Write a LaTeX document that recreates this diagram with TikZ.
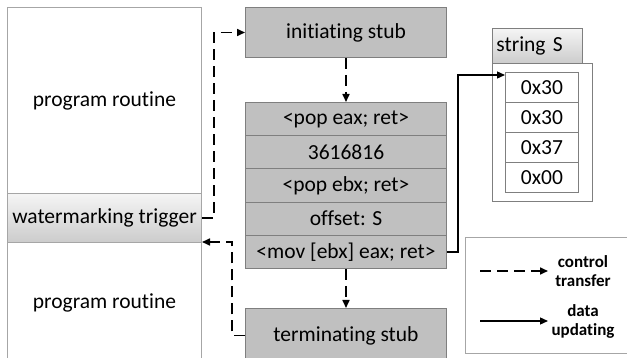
\documentclass[tikz,border=0pt]{standalone}
\usepackage{fontspec}
\setmainfont{Carlito}[Ligatures=NoCommon]
\usetikzlibrary{arrows.meta,calc}
\definecolor{stubgray}{HTML}{C0C0C0}
\definecolor{linegray}{HTML}{7F7F7F}
\definecolor{boxgray}{HTML}{A6A6A6}

\begin{document}
\begin{tikzpicture}[x=1pt,y=-1pt]
	\tikzset{>={Triangle[length=8pt,width=7pt]},
		txt/.style={font=\fontsize{21.5}{25}\selectfont},
		routine/.style={txt,draw=boxgray,line width=1pt,fill=white,anchor=north west,inner sep=0pt,minimum width=194pt},
		stub/.style={txt,draw=linegray,line width=1pt,fill=stubgray,anchor=north west,inner sep=0pt,minimum width=201pt},
		cell/.style={txt,draw=linegray,line width=0.8pt,fill=white,anchor=north west,inner sep=0pt,minimum width=73pt,minimum height=30pt},
		shade/.style={top color=gray!8,bottom color=gray!40},
		ctrl/.style={->,line width=1.6pt,dash pattern=on 11pt off 6pt},
		data/.style={->,line width=1.3pt},
		legtext/.style={font=\fontsize{17}{19}\selectfont\bfseries,align=center,inner sep=0pt}}
	\useasboundingbox (0,0) rectangle (627,358);
	\clip (0,0) rectangle (627,358);

	% program with its trigger
	\node[routine,minimum height=186pt] (prog1) at (7,7) {program routine};
	\node[routine,shade,minimum height=49pt] (trigger) at (7,193) {watermarking trigger};
	\node[routine,minimum height=120pt] (prog2) at (7,242) {program routine};

	% the stubs and the gadget chain
	\node[stub,minimum height=50pt] (init) at (245,7) {initiating stub};
	\node[stub,minimum height=33.2pt] (pop1) at (245,102) {<pop eax; ret>};
	\node[stub,minimum height=33.2pt] (val) at (245,135.2) {3616816};
	\node[stub,minimum height=33.2pt] (pop2) at (245,168.4) {<pop ebx; ret>};
	\node[stub,minimum height=33.2pt] (offs) at (245,201.6) {offset: S};
	\node[stub,minimum height=33.2pt] (mov) at (245,234.8) {<mov [ebx] eax; ret>};
	\node[stub,minimum height=54pt] (term) at (245,308) {terminating stub};

	% the string S
	\node[cell,shade,minimum width=90pt,minimum height=35pt,text width=82pt,align=left] (strhead) at (492,28) {string S};
	\node[draw=linegray,line width=0.8pt,fill=white,anchor=north west,inner sep=0pt,minimum width=100pt,minimum height=138pt] (strbox) at (492,63) {};
	\node[cell] (c1) at (505,72) {0x30};
	\node[cell] (c2) at (505,102) {0x30};
	\node[cell] (c3) at (505,132) {0x37};
	\node[cell] (c4) at (505,162) {0x00};

	\draw[ctrl] (trigger.east) -- ++(12,0) |- (init.west);
	\draw[ctrl] (init.south) -- (pop1.north);
	\draw[ctrl] (mov.south) -- (term.north);
	\draw[ctrl] (term.west) -- ++(-13,0) |- (prog2.north east);
	\coordinate (sdst) at ($(c1.north west)+(0,3)$);
	\draw[data] (mov.east) -- ++(11,0) |- (sdst);

	% legend
	\node[draw=boxgray,line width=1pt,anchor=north west,inner sep=0pt,minimum width=180pt,minimum height=116pt] (legend) at (465,237) {};
	\coordinate (ctrlfrom) at (480,271);
	\coordinate (ctrlto) at (548,271);
	\node[legtext] (ctrltxt) at (583,271) {control\\transfer};
	\draw[ctrl] (ctrlfrom) -- (ctrlto);
	\coordinate (datafrom) at (480,321);
	\coordinate (datato) at (548,321);
	\node[legtext] (datatxt) at (583,321) {data\\updating};
	\draw[data] (datafrom) -- (datato);
\end{tikzpicture}
\end{document}
